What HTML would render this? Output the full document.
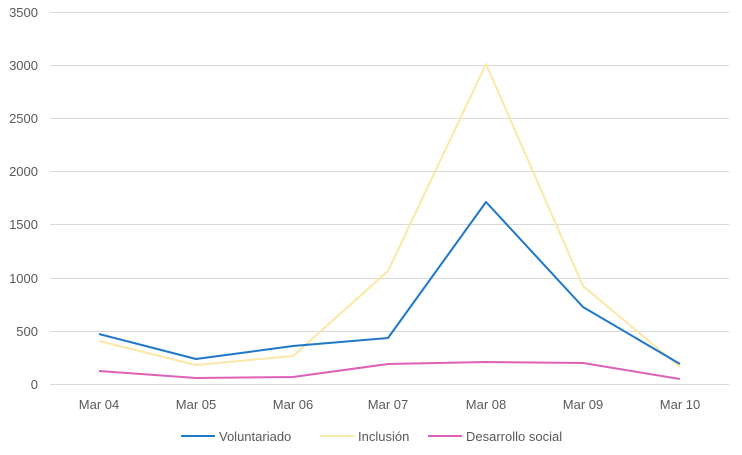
<!DOCTYPE html>
<html><head><meta charset="utf-8"><style>body{margin:0;background:#fff}svg{display:block;font-family:"Liberation Sans",sans-serif}</style></head>
<body>
<svg width="742" height="455" xmlns="http://www.w3.org/2000/svg">
<g stroke="#d9d9d9" stroke-width="1">
<line x1="50" x2="729" y1="12.5" y2="12.5"/><line x1="50" x2="729" y1="65.5" y2="65.5"/><line x1="50" x2="729" y1="118.5" y2="118.5"/><line x1="50" x2="729" y1="171.5" y2="171.5"/><line x1="50" x2="729" y1="224.5" y2="224.5"/><line x1="50" x2="729" y1="278.5" y2="278.5"/><line x1="50" x2="729" y1="331.5" y2="331.5"/><line x1="50" x2="729" y1="384.5" y2="384.5"/>
</g>
<g font-size="13" fill="#595959" text-anchor="end">
<text x="38" y="17">3500</text><text x="38" y="70">3000</text><text x="38" y="123">2500</text><text x="38" y="176">2000</text><text x="38" y="229">1500</text><text x="38" y="283">1000</text><text x="38" y="336">500</text><text x="38" y="389">0</text>
</g>
<g font-size="13" fill="#595959" text-anchor="middle">
<text x="99" y="409">Mar 04</text><text x="196" y="409">Mar 05</text><text x="293" y="409">Mar 06</text><text x="388" y="409">Mar 07</text><text x="486" y="409">Mar 08</text><text x="583" y="409">Mar 09</text><text x="680" y="409">Mar 10</text>
</g>
<g fill="none" stroke-width="2" stroke-linejoin="round">
<polyline stroke="#fbe8a6" points="99,341 196,365 293,356 388,271 486,64 583,286 680,367"/>
<polyline stroke="#1f77c8" points="99,334 196,359 293,346 388,338 486,202 583,307 680,364"/>
<polyline stroke="#e060b8" points="99,371 196,378 293,377 388,364 486,362 583,363 680,379"/>
</g>
<g font-size="13" fill="#595959">
<line x1="181" x2="215" y1="436" y2="436" stroke="#1f77c8" stroke-width="2"/><text x="219" y="441">Voluntariado</text>
<line x1="320" x2="354" y1="436" y2="436" stroke="#fbe8a6" stroke-width="2"/><text x="358" y="441">Inclusión</text>
<line x1="428" x2="462" y1="436" y2="436" stroke="#e060b8" stroke-width="2"/><text x="466" y="441">Desarrollo social</text>
</g>
</svg>
</body></html>
